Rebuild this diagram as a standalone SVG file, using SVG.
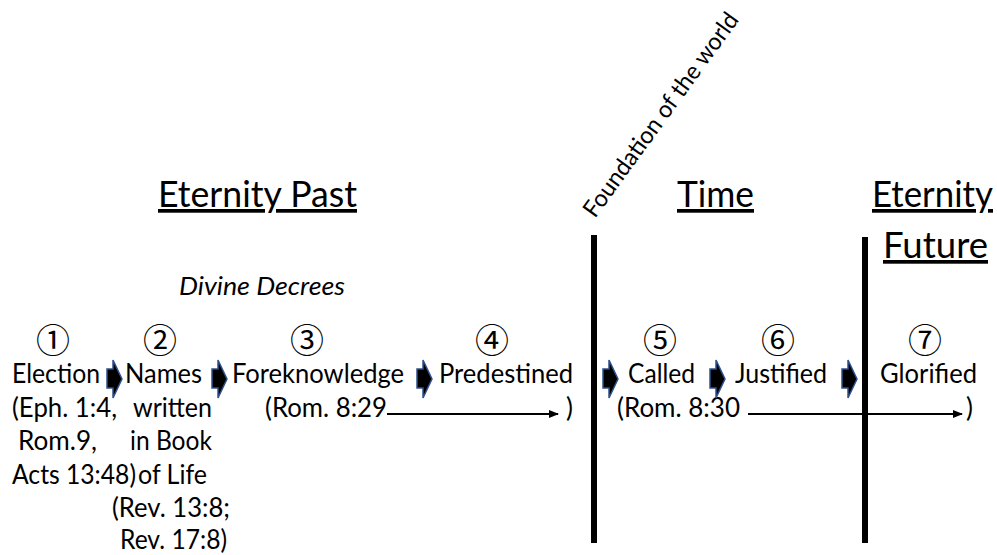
<svg xmlns="http://www.w3.org/2000/svg" width="997" height="555" viewBox="0 0 997 555">
<style>
text{font-family:Lato,"Liberation Sans",sans-serif;fill:#000}
.t{font-size:26px}
.h{font-size:37px;text-decoration:underline}
.n{font-family:"Noto Sans CJK JP",sans-serif;font-size:34px;text-anchor:middle}
.ar{fill:#000;stroke:#2F528F;stroke-width:1.5;stroke-linejoin:miter}
.bar{fill:#000}
.ln{stroke:#000;stroke-width:2;fill:none}
</style>
<defs>
<marker id="ah" markerWidth="10" markerHeight="8" refX="9" refY="4" orient="auto" markerUnits="userSpaceOnUse">
<path d="M0,0 L10,4 L0,8 Z" fill="#000"/>
</marker>
<path id="chev" d="M0,9 H6 V0 L15,19 L6,38 V28 H0 Z"/>
</defs>

<g id="headings">
<text class="h" x="158" y="207" textLength="199" lengthAdjust="spacingAndGlyphs">Eternity Past</text>
<text class="h" x="677" y="207" textLength="77" lengthAdjust="spacingAndGlyphs">Time</text>
<text class="h" x="872" y="207" textLength="121" lengthAdjust="spacingAndGlyphs">Eternity</text>
<text class="h" x="883" y="258" textLength="105" lengthAdjust="spacingAndGlyphs">Future</text>
<text class="t" x="179" y="295" font-style="italic" textLength="166" lengthAdjust="spacingAndGlyphs">Divine Decrees</text>
<text x="595" y="219" font-size="24" transform="rotate(-54 595 219)" textLength="246" lengthAdjust="spacingAndGlyphs">Foundation of the world</text>
</g>

<g id="dividers">
<rect class="bar" x="591" y="235" width="6" height="308"/>
<rect class="bar" x="862" y="237" width="6" height="306"/>
</g>

<g id="node1">
<text class="n" x="53" y="353">①</text>
<text class="t" x="12" y="383" textLength="88" lengthAdjust="spacingAndGlyphs">Election</text>
<text class="t" x="12" y="417" textLength="105" lengthAdjust="spacingAndGlyphs">(Eph. 1:4,</text>
<text class="t" x="18" y="450" textLength="79" lengthAdjust="spacingAndGlyphs">Rom.9,</text>
<text class="t" x="12" y="484" textLength="124" lengthAdjust="spacingAndGlyphs">Acts 13:48)</text>
</g>
<g id="node2">
<text class="n" x="160" y="353">②</text>
<text class="t" x="125" y="383" textLength="77" lengthAdjust="spacingAndGlyphs">Names</text>
<text class="t" x="133" y="417" textLength="79" lengthAdjust="spacingAndGlyphs">written</text>
<text class="t" x="130" y="450" textLength="82" lengthAdjust="spacingAndGlyphs">in Book</text>
<text class="t" x="138" y="484" textLength="69" lengthAdjust="spacingAndGlyphs">of Life</text>
<text class="t" x="112" y="517" textLength="118" lengthAdjust="spacingAndGlyphs">(Rev. 13:8;</text>
<text class="t" x="120" y="549" textLength="107" lengthAdjust="spacingAndGlyphs">Rev. 17:8)</text>
</g>
<g id="node3">
<text class="n" x="307" y="353">③</text>
<text class="t" x="232" y="383" textLength="172" lengthAdjust="spacingAndGlyphs">Foreknowledge</text>
<text class="t" x="265" y="417" textLength="122" lengthAdjust="spacingAndGlyphs">(Rom. 8:29</text>
</g>
<g id="node4">
<text class="n" x="492" y="353">④</text>
<text class="t" x="439" y="383" textLength="134" lengthAdjust="spacingAndGlyphs">Predestined</text>
<text class="t" x="566" y="417">)</text>
</g>
<g id="node5">
<text class="n" x="660" y="353">⑤</text>
<text class="t" x="628" y="383" textLength="67" lengthAdjust="spacingAndGlyphs">Called</text>
<text class="t" x="617" y="417" textLength="123" lengthAdjust="spacingAndGlyphs">(Rom. 8:30</text>
</g>
<g id="node6">
<text class="n" x="778" y="353">⑥</text>
<text class="t" x="735" y="383" textLength="92" lengthAdjust="spacingAndGlyphs">Justified</text>
</g>
<g id="node7">
<text class="n" x="925" y="353">⑦</text>
<text class="t" x="880" y="383" textLength="97" lengthAdjust="spacingAndGlyphs">Glorified</text>
<text class="t" x="966" y="417">)</text>
</g>

<g id="connectors">
<use href="#chev" class="ar" x="107" y="360"/>
<use href="#chev" class="ar" x="212" y="360"/>
<use href="#chev" class="ar" x="417" y="360"/>
<use href="#chev" class="ar" x="603" y="360"/>
<use href="#chev" class="ar" x="710" y="360"/>
<use href="#chev" class="ar" x="842" y="360"/>
<line class="ln" x1="387" y1="414" x2="558" y2="414" marker-end="url(#ah)"/>
<line class="ln" x1="748" y1="414" x2="962" y2="414" marker-end="url(#ah)"/>
</g>
</svg>
